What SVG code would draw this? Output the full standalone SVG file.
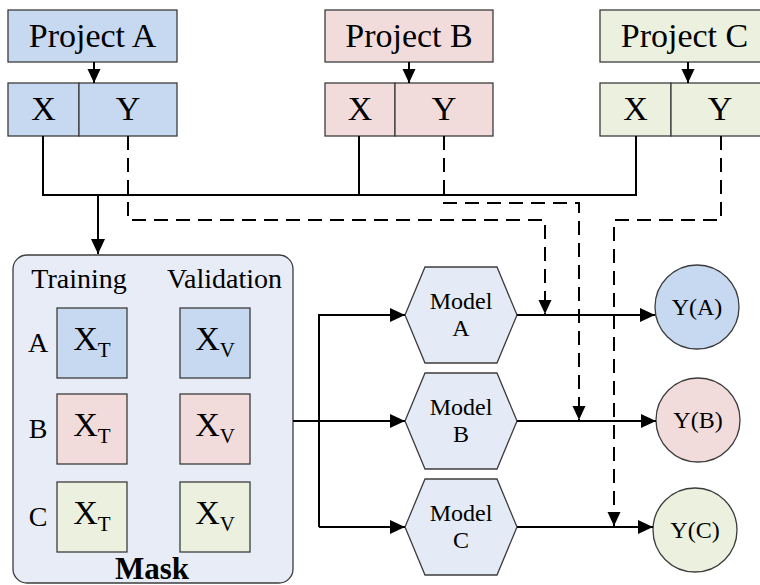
<svg xmlns="http://www.w3.org/2000/svg" width="760" height="585" viewBox="0 0 760 585">
<defs>
<marker id="ah" markerUnits="userSpaceOnUse" markerWidth="16" markerHeight="14" viewBox="0 0 16 14" refX="15" refY="7" orient="auto">
<path d="M0,0 L15,7 L0,14 Z" fill="#000"/>
</marker>
<marker id="ahs" markerUnits="userSpaceOnUse" markerWidth="15" markerHeight="14" viewBox="0 0 15 14" refX="14" refY="7" orient="auto">
<path d="M0,0.5 L14,7 L0,13.5 Z" fill="#000"/>
</marker>
</defs>
<style>
text{font-family:"Liberation Serif","Times New Roman",serif;fill:#000}
.box{stroke:#3c3c3c;stroke-width:1.3}
.a{fill:#c6d9f1}.b{fill:#f2dcdb}.c{fill:#ebf1de}
.t33{font-size:34px;text-anchor:middle}
.t28{font-size:28px;text-anchor:middle}
.t24{font-size:24px;text-anchor:middle}
.sub{font-size:21px}
.hex{fill:#e4eaf6;stroke:#3c3c3c;stroke-width:1.3}
.ln{fill:none;stroke:#000;stroke-width:2}
.ds{fill:none;stroke:#000;stroke-width:2;stroke-dasharray:14 8}
</style>
<rect width="760" height="585" fill="#fff"/>

<g id="projectA">
<rect class="box a" x="8" y="10" width="169" height="52"/>
<text class="t33" x="92.5" y="47">Project A</text>
</g>
<g id="projectB">
<rect class="box b" x="325" y="10" width="168" height="52"/>
<text class="t33" x="409" y="47">Project B</text>
</g>
<g id="projectC">
<rect class="box c" x="600" y="10" width="169" height="52"/>
<text class="t33" x="684.5" y="47">Project C</text>
</g>

<g id="xyA">
<rect class="box a" x="8" y="83" width="71" height="53"/>
<rect class="box a" x="79" y="83" width="98" height="53"/>
<text class="t33" x="43.5" y="120">X</text>
<text class="t33" x="128" y="120">Y</text>
</g>
<g id="xyB">
<rect class="box b" x="325" y="83" width="70" height="53"/>
<rect class="box b" x="395" y="83" width="98" height="53"/>
<text class="t33" x="360" y="120">X</text>
<text class="t33" x="444" y="120">Y</text>
</g>
<g id="xyC">
<rect class="box c" x="600" y="83" width="71" height="53"/>
<rect class="box c" x="671" y="83" width="98" height="53"/>
<text class="t33" x="635.5" y="120">X</text>
<text class="t33" x="720" y="120">Y</text>
</g>

<g id="mask">
<rect x="13" y="255" width="280" height="328" rx="14" fill="#e7ecf7" stroke="#3c3c3c" stroke-width="1.3"/>
<text class="t28" x="79" y="288">Training</text>
<text class="t28" x="224.5" y="288">Validation</text>
<text class="t28" x="38" y="352">A</text>
<text class="t28" x="38" y="438">B</text>
<text class="t28" x="38" y="526">C</text>
<rect class="box a" x="57" y="308" width="70" height="70"/>
<rect class="box a" x="180" y="308" width="70" height="70"/>
<rect class="box b" x="57" y="394" width="70" height="70"/>
<rect class="box b" x="180" y="394" width="70" height="70"/>
<rect class="box c" x="57" y="482" width="70" height="70"/>
<rect class="box c" x="180" y="482" width="70" height="70"/>
<text class="t33" x="92" y="350">X<tspan class="sub" dy="7">T</tspan></text>
<text class="t33" x="215" y="350">X<tspan class="sub" dy="7">V</tspan></text>
<text class="t33" x="92" y="436">X<tspan class="sub" dy="7">T</tspan></text>
<text class="t33" x="215" y="436">X<tspan class="sub" dy="7">V</tspan></text>
<text class="t33" x="92" y="524">X<tspan class="sub" dy="7">T</tspan></text>
<text class="t33" x="215" y="524">X<tspan class="sub" dy="7">V</tspan></text>
<text x="152" y="579" style="font-size:31px;font-weight:bold;text-anchor:middle">Mask</text>
</g>

<g id="modelA">
<polygon class="hex" points="405,315 425,267 497,267 517,315 497,363 425,363"/>
<text class="t24" x="461" y="309">Model</text>
<text class="t24" x="461" y="336">A</text>
</g>
<g id="modelB">
<polygon class="hex" points="405,421 425,373 497,373 517,421 497,469 425,469"/>
<text class="t24" x="461" y="415">Model</text>
<text class="t24" x="461" y="442">B</text>
</g>
<g id="modelC">
<polygon class="hex" points="405,527 425,479 497,479 517,527 497,575 425,575"/>
<text class="t24" x="461" y="521">Model</text>
<text class="t24" x="461" y="548">C</text>
</g>

<g id="yA">
<circle class="box a" cx="697" cy="307" r="42"/>
<text class="t24" x="697" y="315">Y(A)</text>
</g>
<g id="yB">
<circle class="box b" cx="698" cy="420" r="42"/>
<text class="t24" x="698" y="428">Y(B)</text>
</g>
<g id="yC">
<circle class="box c" cx="695" cy="530" r="42"/>
<text class="t24" x="695" y="538">Y(C)</text>
</g>

<g id="connectors">
<path class="ln" d="M94,62 V83" marker-end="url(#ahs)"/>
<path class="ln" d="M409,62 V83" marker-end="url(#ahs)"/>
<path class="ln" d="M688,62 V83" marker-end="url(#ahs)"/>
<path class="ln" d="M43,136 V195 H636 V136"/>
<path class="ln" d="M359,136 V195"/>
<path class="ln" d="M98,195 V254" marker-end="url(#ah)"/>
<path class="ds" d="M128,136 V220 H545 V314" marker-end="url(#ahs)"/>
<path class="ds" d="M444,136 V203 H579 V420" marker-end="url(#ahs)"/>
<path class="ds" d="M721,136 V220 H614 V526" marker-end="url(#ahs)"/>
<path class="ln" d="M293,421 H405" marker-end="url(#ah)"/>
<path class="ln" d="M319,527 V315 H405" marker-end="url(#ah)"/>
<path class="ln" d="M319,527 H405" marker-end="url(#ah)"/>
<path class="ln" d="M517,315 H655" marker-end="url(#ah)"/>
<path class="ln" d="M517,421 H656" marker-end="url(#ah)"/>
<path class="ln" d="M517,527 H653" marker-end="url(#ah)"/>
</g>
</svg>
